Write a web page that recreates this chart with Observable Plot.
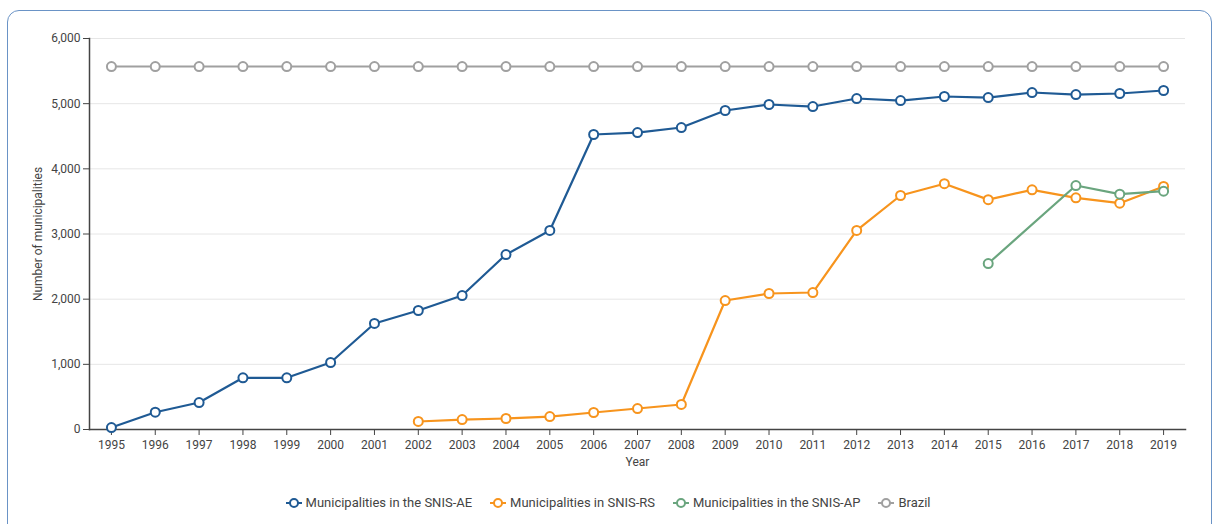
<!DOCTYPE html>
<html>
<head>
<meta charset="utf-8">
<script src="https://cdn.jsdelivr.net/npm/d3@7"></script>
<script src="https://cdn.jsdelivr.net/npm/@observablehq/plot@0.6"></script>
<style>
  html, body { margin: 0; padding: 0; background: #fff; width: 1216px; height: 524px; overflow: hidden; }
  #box { position: absolute; left: 7px; top: 10px; width: 1205px; height: 530px; border: 1.5px solid #6a93c6; border-radius: 12px; box-sizing: border-box; }
  #chart { position: absolute; left: 0; top: 0; }
  #legend { position: absolute; left: 0; top: 495px; width: 1216px; display: flex; justify-content: center; gap: 18px; font-family: Roboto, sans-serif; font-size: 13px; color: #444; }
  #legend .item { display: flex; align-items: center; gap: 4px; }
</style>
</head>
<body>
<div id="box"></div>
<div id="chart"></div>
<div id="legend"></div>
<script>
const years = [1995,1996,1997,1998,1999,2000,2001,2002,2003,2004,2005,2006,2007,2008,2009,2010,2011,2012,2013,2014,2015,2016,2017,2018,2019];
const seriesNames = ["Municipalities in the SNIS-AE","Municipalities in SNIS-RS","Municipalities in the SNIS-AP","Brazil"];
const seriesColors = ["#1f5a94","#f7941d","#6aa57e","#a0a0a0"];
const snisAE = [30,265,414,793,793,1028,1627,1826,2056,2685,3054,4527,4557,4634,4895,4987,4956,5079,5048,5110,5094,5171,5140,5156,5202];
const snisRS = [null,null,null,null,null,null,null,123,153,169,199,261,322,384,1979,2087,2102,3054,3591,3772,3527,3678,3555,3473,3729];
const snisAP = [null,null,null,null,null,null,null,null,null,null,null,null,null,null,null,null,null,null,null,null,2547,null,3744,3611,3657];
const brazil = [5570,5570,5570,5570,5570,5570,5570,5570,5570,5570,5570,5570,5570,5570,5570,5570,5570,5570,5570,5570,5570,5570,5570,5570,5570];
const yTicks = [0,1000,2000,3000,4000,5000,6000];

const seriesValues = [snisAE, snisRS, snisAP, brazil];
const order = [3,0,1,2]; // draw Brazil first, AP last
const data = [];
for (const i of order) {
  seriesValues[i].forEach((v, j) => { if (v != null) data.push({series: seriesNames[i], year: years[j], value: v}); });
}

const W = 1216, H = 475;
const plot = Plot.plot({
  width: W, height: H,
  marginLeft: 89, marginRight: 31, marginTop: 38, marginBottom: 46,
  style: { fontFamily: "Roboto, sans-serif", fontSize: "12px", color: "#444", background: "transparent" },
  x: { type: "point", domain: years, padding: 0.5, round: false, label: "Year" },
  y: { domain: [0, 6000], ticks: yTicks, label: "Number of municipalities", tickFormat: d3.format(",") },
  color: { domain: seriesNames, range: seriesColors },
  marks: [
    Plot.gridY(yTicks, { stroke: "#e6e6e6", strokeOpacity: 1, strokeWidth: 1 }),
    Plot.axisY(yTicks, { tickSize: 6, tickPadding: 3, stroke: "#444", fill: "#444", label: "Number of municipalities", labelAnchor: "center", labelArrow: "none", labelOffset: 56, tickFormat: d3.format(",") }),
    Plot.axisX(years, { tickSize: 6, tickPadding: 5, stroke: "#444", fill: "#444", label: "Year", labelAnchor: "center", labelArrow: "none", labelOffset: 36, tickFormat: d => String(d) }),
    Plot.frame({ anchor: "left", stroke: "#444", strokeWidth: 1.5 }),
    Plot.frame({ anchor: "bottom", stroke: "#444", strokeWidth: 1.5 }),
    Plot.line(data, { x: "year", y: "value", z: "series", stroke: "series", strokeWidth: 2.2 }),
    Plot.dot(data, { x: "year", y: "value", stroke: "series", fill: "white", r: 4.5, strokeWidth: 2 })
  ]
});
document.getElementById("chart").appendChild(plot);

const legend = document.getElementById("legend");
seriesNames.forEach((name, i) => {
  const item = document.createElement("div");
  item.className = "item";
  const c = seriesColors[i];
  item.innerHTML = `<svg width="16" height="12"><line x1="0" x2="16" y1="6" y2="6" stroke="${c}" stroke-width="2"/><circle cx="8" cy="6" r="4" fill="white" stroke="${c}" stroke-width="2"/></svg><span>${name}</span>`;
  legend.appendChild(item);
});
</script>
</body>
</html>
